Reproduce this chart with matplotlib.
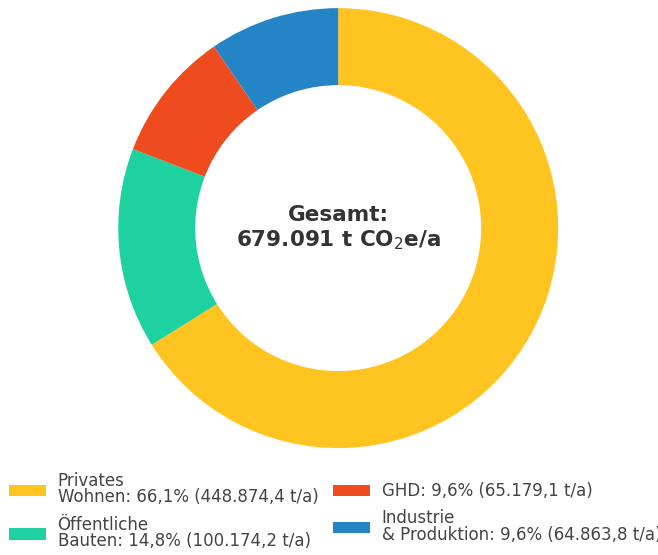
import matplotlib
matplotlib.use("Agg")
import matplotlib.pyplot as plt

categories = ["Privates\nWohnen", "Öffentliche\nBauten", "GHD", "Industrie\n& Produktion"]
values = [448874.4, 100174.2, 65179.1, 64863.8]
colors = ["#FFC41F", "#1DD1A1", "#EE4B1E", "#2584C6"]
total_label = "Gesamt:\n679.091 t CO$_2$e/a"


def de_num(x, dec=1):
    s = f"{x:,.{dec}f}"
    return s.replace(",", "X").replace(".", ",").replace("X", ".")


total = sum(values)
labels = [f"{c}: {de_num(v / total * 100)}% ({de_num(v)} t/a)" for c, v in zip(categories, values)]

fig = plt.figure(figsize=(6.58, 5.55), dpi=100)
ax = fig.add_axes([0.514 - 0.3343, 0.589 - 0.3964, 0.6686, 0.7928])
wedges, _ = ax.pie(values, colors=colors, startangle=90, counterclock=False,
                   wedgeprops=dict(width=0.35, edgecolor="none"))
ax.set_xlim(-1, 1)
ax.set_ylim(-1, 1)
ax.set_aspect("equal")
ax.text(0, 0, total_label, ha="center", va="center", fontsize=15.5,
        fontweight="bold", color="#333333", linespacing=1.2)
leg = ax.legend(wedges, labels, loc="upper center", bbox_to_anchor=(0.493, -0.02),
                ncol=2, frameon=False, fontsize=12, labelcolor="#444444",
                handlelength=2.2, handleheight=0.66, handletextpad=0.7,
                columnspacing=0.9, labelspacing=0.55)
for t in leg.get_texts():
    t.set_linespacing(0.9)
fig.savefig("out.png", dpi=100)
